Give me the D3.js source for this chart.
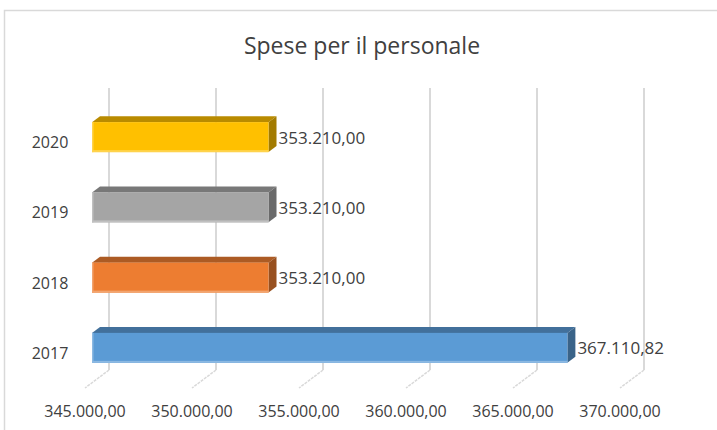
<!DOCTYPE html>
<html>
<head>
<meta charset="utf-8">
<script src="https://cdn.jsdelivr.net/npm/d3@7/dist/d3.min.js"></script>
<style>
  html, body { margin: 0; padding: 0; background: #fff; }
  svg { display: block; }
  text { font-family: "Open Sans", "Liberation Sans", sans-serif; fill: #404040; }
</style>
</head>
<body>
<svg id="chart" width="717" height="430"></svg>
<script>
// ---- data ----
const title = "Spese per il personale";
const categories = ["2017", "2018", "2019", "2020"];
const values = [367110.82, 353210.00, 353210.00, 353210.00];
const barColors = ["#5b9bd5", "#ed7d31", "#a5a5a5", "#ffc000"];
const tickValues = [345000, 350000, 355000, 360000, 365000, 370000];
const axisDomain = [345000, 370000];

// ---- setup ----
const W = 717, H = 430;
const svg = d3.select("#chart");
const it = d3.formatLocale({ decimal: ",", thousands: ".", grouping: [3], currency: ["€", ""] });
const fmt = it.format(",.2f");

// outer frame
svg.append("rect")
  .attr("x", 4.5).attr("y", 10.5)
  .attr("width", W + 20).attr("height", H + 20)
  .attr("fill", "#fff").attr("stroke", "#d9d9d9").attr("stroke-width", 1.5);

// title
svg.append("text")
  .attr("x", 362).attr("y", 54)
  .attr("text-anchor", "middle")
  .attr("font-size", 23)
  .text(title);

// scales: back wall, front floor edge, bar front face
const xBack = d3.scaleLinear().domain(axisDomain).range([109, 644]);
const xFront = d3.scaleLinear().domain(axisDomain).range([85, 620]);
const xBar = d3.scaleLinear().domain(axisDomain).range([92, 629.5]);
const order = categories.slice().reverse(); // top to bottom
const yBar = d3.scaleBand().domain(order).range([102, 383]).paddingInner(0.573).paddingOuter(0.2865);

const wallTop = 88, wallBottom = 370, floorFront = 388;
const depthX = 8, depthY = 6;

// gridlines on back wall + floor
const grid = svg.append("g");
grid.selectAll("line.v").data(tickValues).join("line")
  .attr("class", "v")
  .attr("x1", d => xBack(d)).attr("x2", d => xBack(d))
  .attr("y1", wallTop).attr("y2", wallBottom)
  .attr("stroke", "#d9d9d9").attr("stroke-width", 2);
grid.selectAll("line.f").data(tickValues).join("line")
  .attr("class", "f")
  .attr("x1", d => xBack(d)).attr("x2", d => xFront(d))
  .attr("y1", wallBottom).attr("y2", floorFront)
  .attr("stroke", "#d9d9d9").attr("stroke-width", 1.5).attr("stroke-dasharray", "3,1");

// axis labels
svg.append("g").selectAll("text").data(tickValues).join("text")
  .attr("x", d => xFront(d)).attr("y", 411)
  .attr("text-anchor", "middle").attr("dominant-baseline", "central")
  .attr("font-size", 16)
  .text(d => fmt(d));

// category labels
svg.append("g").selectAll("text").data(categories).join("text")
  .attr("x", 50).attr("y", d => yBar(d) + yBar.bandwidth() / 2 + 5)
  .attr("text-anchor", "middle").attr("dominant-baseline", "central")
  .attr("font-size", 16)
  .text(d => d);

// bars (3D)
const rows = categories.map((c, i) => ({ c, v: values[i], col: barColors[i] }));
const bars = svg.append("g").selectAll("g").data(rows).join("g");
const pts = a => a.map(p => p.join(",")).join(" ");

bars.each(function(d) {
  const g = d3.select(this);
  const x0 = xBar(axisDomain[0]), x1 = xBar(d.v);
  const y0 = yBar(d.c), y1 = y0 + yBar.bandwidth();
  const base = d3.color(d.col);
  const top = base.darker(0.9);
  const side = base.darker(1.25);
  const light = d3.interpolateRgb(d.col, "#ffffff")(0.3);
  // top face
  g.append("polygon")
    .attr("points", pts([[x0, y0], [x0 + depthX, y0 - depthY], [x1 + depthX, y0 - depthY], [x1, y0]]))
    .attr("fill", top);
  // side face
  g.append("polygon")
    .attr("points", pts([[x1, y0], [x1 + depthX, y0 - depthY], [x1 + depthX, y1 - depthY], [x1, y1]]))
    .attr("fill", side);
  // front face
  g.append("rect")
    .attr("x", x0).attr("y", y0).attr("width", x1 - x0).attr("height", y1 - y0)
    .attr("fill", d.col);
  // light bottom / left edge
  g.append("rect")
    .attr("x", x0).attr("y", y1 - 2).attr("width", x1 - x0).attr("height", 2)
    .attr("fill", light);
  g.append("rect")
    .attr("x", x0).attr("y", y0).attr("width", 1.5).attr("height", y1 - y0)
    .attr("fill", light);
  // value label
  g.append("text")
    .attr("x", x1 + depthX + 2).attr("y", (y0 + y1) / 2)
    .attr("dominant-baseline", "central")
    .attr("font-size", 17)
    .text(fmt(d.v));
});
</script>
</body>
</html>
